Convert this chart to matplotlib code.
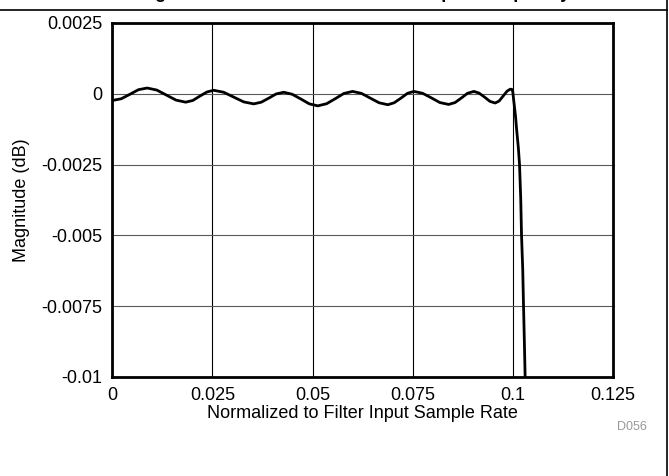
import matplotlib
matplotlib.use("Agg")
from matplotlib import pyplot as plt
from matplotlib.lines import Line2D

plt.rcParams['font.family'] = ['Liberation Sans', 'DejaVu Sans']

# passband ripple (normalized freq, dB)
freq = [0.0, 0.0022, 0.0044, 0.0065, 0.0087,
        0.0111, 0.0135, 0.0159, 0.0183,
        0.0201, 0.0218, 0.0236, 0.0253,
        0.0278, 0.0303, 0.0328, 0.0353,
        0.0372, 0.0391, 0.0409, 0.0428,
        0.0449, 0.0471, 0.0492, 0.0513,
        0.0535, 0.0557, 0.0578, 0.0600,
        0.0622, 0.0644, 0.0666, 0.0688,
        0.0704, 0.0721, 0.0737, 0.0753,
        0.0775, 0.0797, 0.0818, 0.0840,
        0.0856, 0.0872, 0.0887, 0.0903,
        0.0916, 0.0930, 0.0943, 0.0956,
        0.0966, 0.0976, 0.0986, 0.0994, 0.0998,
        0.1000, 0.1003, 0.1007, 0.1010, 0.1014, 0.1017, 0.1020,
        0.1022, 0.1025, 0.1027, 0.1029, 0.1031, 0.1032]
mag = [-0.00024, -0.00018, -0.00002, 0.00014, 0.00020,
       0.000127, -0.00005, -0.000227, -0.00030,
       -0.000239, -0.00009, 0.000059, 0.00012,
       0.00005, -0.00012, -0.00029, -0.00036,
       -0.00030, -0.000155, -0.00001, 0.00005,
       -0.00002, -0.00019, -0.00036, -0.00043,
       -0.000355, -0.000175, 0.000006, 0.00008,
       0.000011, -0.000155, -0.00032, -0.00039,
       -0.00032, -0.000155, 0.000011, 0.00008,
       0.000013, -0.00015, -0.000313, -0.00038,
       -0.000313, -0.00015, 0.000013, 0.00008,
       0.00002, -0.000125, -0.00027, -0.00033,
       -0.00026, -0.000085, 0.00009, 0.00016, 0.00015,
       0.00008, -0.0003, -0.0008, -0.0013, -0.0019, -0.0025, -0.0037,
       -0.005, -0.0062, -0.0075, -0.0087, -0.01, -0.0105]

xticks = [0, 0.025, 0.05, 0.075, 0.1, 0.125]
xticklabels = ['0', '0.025', '0.05', '0.075', '0.1', '0.125']
yticks = [0.0025, 0, -0.0025, -0.005, -0.0075, -0.01]
yticklabels = ['0.0025', '0', '-0.0025', '-0.005', '-0.0075', '-0.01']

fig = plt.figure(figsize=(6.69, 4.76), dpi=100)
ax = fig.add_axes([0.168, 0.208, 0.748, 0.744])

ax.plot(freq, mag, color='black', lw=2, solid_joinstyle='round')
ax.set_xlim(0, 0.125)
ax.set_ylim(-0.01, 0.0025)
ax.set_xticks(xticks)
ax.set_xticklabels(xticklabels)
ax.set_yticks(yticks)
ax.set_yticklabels(yticklabels)
ax.tick_params(length=0, pad=7, labelsize=13)
ax.grid(axis='x', color='black', lw=0.8)
ax.grid(axis='y', color='0.35', lw=0.8)
for s in ax.spines.values():
    s.set_linewidth(2)
ax.set_xlabel('Normalized to Filter Input Sample Rate', fontsize=13, labelpad=1)
ax.set_ylabel('Magnitude (dB)', fontsize=13, labelpad=8)

# frame lines and cut-off title of the datasheet figure
fig.add_artist(Line2D([0, 0.9963], [0.980, 0.980], color='black', lw=1.2))
fig.add_artist(Line2D([0.9963, 0.9963], [0, 1], color='black', lw=1.2))
fig.text(0.486, 1.005, 'Filter Magnitude Over the Band Zoomed Up to Frequency',
         ha='center', va='baseline', fontsize=13, weight='bold')
fig.text(0.945, 0.102, 'D056', ha='center', va='center', fontsize=9, color='0.6')

fig.savefig('out.png', dpi=100)
